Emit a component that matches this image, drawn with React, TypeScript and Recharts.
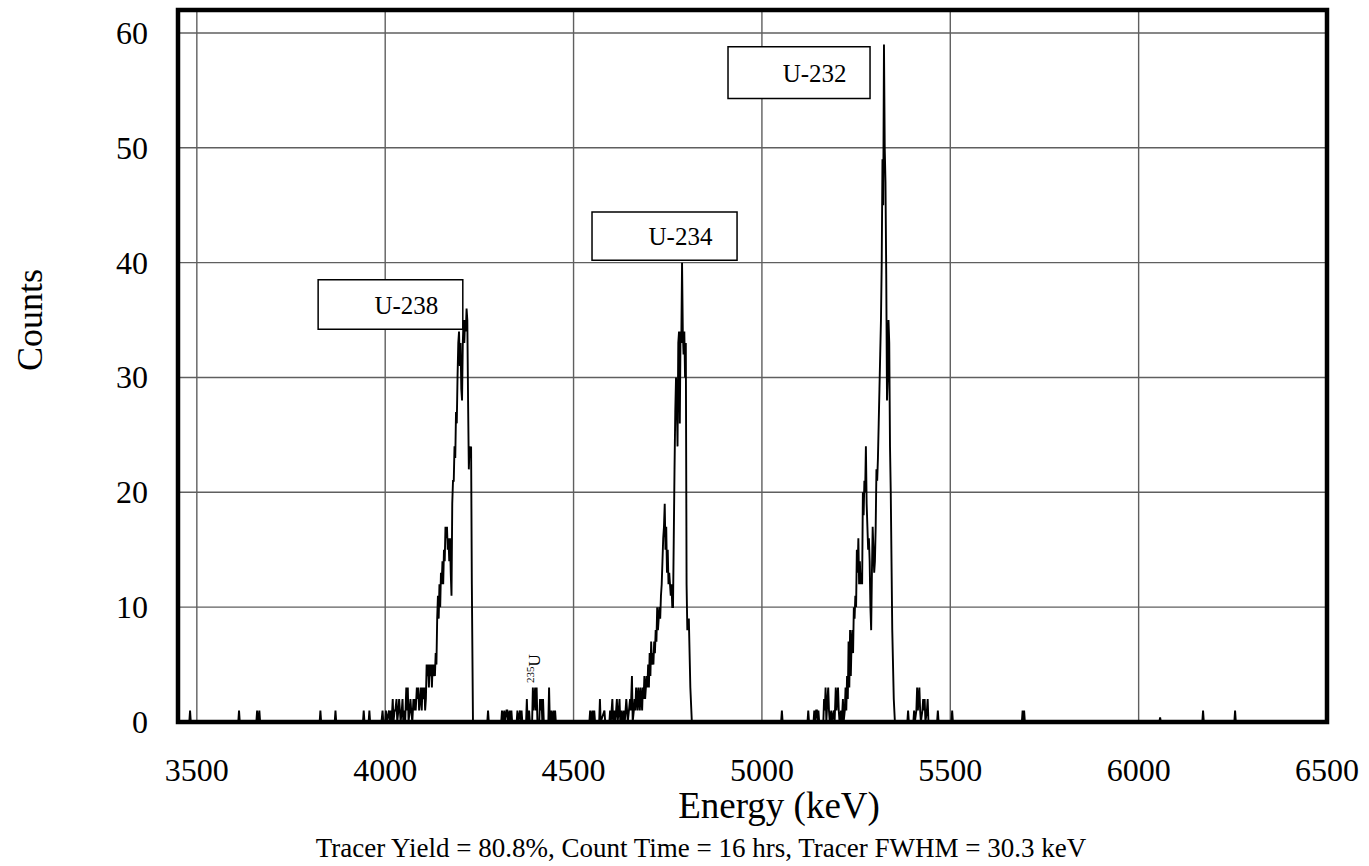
import { LineChart, Line, XAxis, YAxis, CartesianGrid, ReferenceArea, ReferenceDot } from 'recharts';

type Pt = [number, number]; // [energy keV, counts]

const energyTicks = [3500, 4000, 4500, 5000, 5500, 6000, 6500];
const countTicks = [0, 10, 20, 30, 40, 50, 60];

const lowBackground: Pt[] = [
  [3450, 0], [3480, 0], [3482, 1], [3484, 0], [3610, 0], [3612, 1], [3614, 0],
  [3658, 0], [3660, 1], [3662, 0], [3664, 0], [3666, 1], [3668, 0],
  [3826, 0], [3828, 1], [3830, 0], [3866, 0], [3868, 1], [3870, 0],
  [3941, 0], [3943, 1], [3945, 0], [3956, 0], [3958, 1], [3960, 0], [3988, 0],
];

const u238Peak: Pt[] = [
  [3990, 0], [3993, 1], [3995, 0], [4000, 0], [4002, 1], [4004, 0], [4010, 1], [4012, 0],
  [4015, 1], [4017, 0], [4020, 2], [4022, 0], [4025, 1], [4027, 1], [4030, 2], [4032, 0],
  [4035, 1], [4037, 2], [4039, 1], [4041, 0], [4044, 1], [4046, 2], [4048, 0], [4050, 1],
  [4053, 0], [4056, 3], [4058, 1], [4060, 3], [4062, 0], [4065, 1], [4067, 2], [4069, 1],
  [4072, 0], [4075, 2], [4077, 1], [4079, 2], [4081, 1], [4084, 3], [4086, 2], [4088, 3],
  [4090, 1], [4093, 2], [4095, 3], [4097, 1], [4099, 3], [4101, 2], [4104, 3], [4106, 1],
  [4108, 2], [4110, 5], [4112, 4], [4114, 5], [4116, 3], [4118, 5], [4120, 4], [4122, 5],
  [4124, 3], [4126, 5], [4128, 4], [4130, 5], [4132, 4], [4134, 6], [4136, 5], [4138, 9],
  [4140, 11], [4142, 9], [4144, 12], [4146, 10], [4148, 13], [4150, 12], [4152, 14],
  [4154, 12], [4156, 15], [4158, 14], [4160, 17], [4162, 16], [4164, 17], [4166, 15],
  [4168, 16], [4170, 14], [4172, 16], [4174, 13], [4176, 11], [4178, 19], [4180, 21],
  [4182, 21], [4184, 24], [4186, 23], [4188, 27], [4190, 26], [4192, 30], [4194, 33],
  [4196, 34], [4198, 31], [4200, 33], [4202, 29], [4204, 28], [4206, 33], [4208, 35],
  [4210, 33], [4212, 35], [4214, 34], [4216, 36], [4218, 35], [4220, 28], [4222, 22],
  [4224, 24], [4226, 23], [4228, 24], [4230, 12], [4233, 0],
];

const midBackground: Pt[] = [
  [4236, 0], [4271, 0], [4273, 1], [4275, 0], [4308, 0], [4310, 1], [4312, 0], [4316, 1],
  [4318, 0], [4322, 1], [4324, 1], [4326, 0], [4330, 1], [4332, 0], [4335, 1], [4337, 0],
  [4349, 0], [4351, 1], [4353, 0], [4358, 1], [4360, 0], [4362, 1], [4364, 0], [4374, 0],
  [4376, 2], [4378, 0], [4382, 1], [4384, 0], [4390, 0], [4392, 3], [4394, 1], [4396, 2],
  [4398, 3], [4400, 1], [4402, 3], [4404, 0], [4409, 0], [4411, 2], [4413, 1], [4415, 2],
  [4417, 0], [4419, 2], [4421, 0], [4433, 0], [4435, 3], [4437, 0], [4441, 1], [4443, 0],
  [4447, 1], [4449, 0], [4451, 1], [4453, 0], [4542, 0], [4544, 1], [4546, 0], [4550, 1],
  [4552, 0], [4555, 1], [4557, 0], [4568, 0], [4570, 2], [4572, 0], [4582, 1], [4584, 0],
  [4595, 0], [4597, 1], [4599, 0], [4603, 2], [4605, 0], [4608, 1], [4610, 0], [4613, 1],
  [4615, 2], [4617, 0], [4620, 1], [4622, 2], [4624, 0], [4628, 1], [4630, 0], [4634, 1],
  [4636, 0], [4640, 2], [4642, 1], [4644, 0], [4647, 1], [4650, 2], [4652, 1], [4655, 4],
  [4657, 0], [4660, 1], [4662, 2], [4664, 1], [4666, 3], [4668, 2], [4670, 1], [4672, 3],
  [4674, 2], [4676, 1], [4678, 3], [4680, 2], [4682, 1], [4684, 3], [4686, 2], [4688, 4],
  [4690, 2], [4692, 3], [4694, 4], [4696, 3],
];

const u234Peak: Pt[] = [
  [4698, 5], [4700, 3], [4702, 6], [4704, 4], [4706, 7], [4708, 5], [4710, 6], [4712, 5],
  [4714, 7], [4716, 6], [4718, 8], [4720, 7], [4722, 10], [4724, 8], [4726, 9], [4728, 10],
  [4730, 9], [4732, 11], [4734, 12], [4736, 14], [4738, 16], [4740, 17], [4742, 19],
  [4744, 15], [4746, 17], [4748, 13], [4750, 15], [4752, 12], [4754, 13], [4756, 12],
  [4758, 11], [4760, 12], [4762, 10], [4764, 10], [4766, 16], [4768, 22], [4770, 27],
  [4772, 30], [4774, 28], [4776, 24], [4778, 33], [4780, 34], [4782, 26], [4784, 34],
  [4786, 33], [4788, 40], [4790, 34], [4792, 32], [4794, 34], [4796, 30], [4798, 33],
  [4800, 12], [4802, 8], [4806, 9], [4810, 3], [4814, 0],
];

const preU232: Pt[] = [
  [4816, 0], [5051, 0], [5053, 1], [5055, 0], [5121, 0], [5123, 1], [5125, 0], [5137, 0],
  [5139, 1], [5141, 0], [5144, 1], [5146, 1], [5148, 0], [5150, 1], [5152, 0], [5163, 0],
  [5165, 2], [5167, 1], [5169, 3], [5171, 0], [5174, 2], [5176, 3], [5178, 1], [5180, 0],
  [5184, 1], [5186, 0], [5191, 1], [5193, 0], [5196, 3], [5198, 1], [5200, 2], [5202, 3],
  [5204, 1], [5206, 0], [5210, 1], [5212, 0], [5215, 2], [5217, 0], [5220, 1],
];

const u232Peak: Pt[] = [
  [5222, 3], [5224, 1], [5226, 4], [5228, 2], [5230, 7], [5232, 3], [5234, 8], [5236, 4],
  [5238, 7], [5240, 8], [5242, 6], [5244, 10], [5246, 9], [5248, 11], [5250, 10],
  [5252, 15], [5254, 13], [5256, 16], [5258, 12], [5260, 14], [5262, 12], [5264, 13],
  [5266, 12], [5268, 20], [5270, 18], [5272, 21], [5274, 20], [5276, 24], [5278, 19],
  [5280, 17], [5282, 15], [5284, 16], [5286, 14], [5288, 10], [5290, 8], [5292, 13],
  [5294, 17], [5296, 15], [5298, 13], [5300, 14], [5302, 17], [5304, 22], [5306, 21],
  [5308, 23], [5310, 26], [5312, 29], [5314, 32], [5316, 35], [5318, 40], [5320, 49],
  [5322, 45], [5324, 59], [5326, 50], [5328, 47], [5330, 39], [5332, 28], [5334, 30],
  [5336, 35], [5338, 33], [5340, 24], [5342, 20], [5346, 8], [5350, 2], [5353, 0],
];

const highBackground: Pt[] = [
  [5356, 0], [5386, 0], [5388, 1], [5390, 0], [5402, 0], [5404, 1], [5406, 0], [5410, 1],
  [5412, 3], [5414, 1], [5416, 2], [5418, 3], [5420, 1], [5422, 0], [5426, 1], [5428, 2],
  [5430, 1], [5432, 2], [5434, 0], [5438, 1], [5440, 2], [5442, 0], [5465, 0], [5467, 1],
  [5469, 0], [5503, 0], [5505, 1], [5507, 0], [5690, 0], [5692, 1], [5694, 0], [5696, 1],
  [5698, 0], [6055, 0], [6057, 0.4], [6059, 0], [6169, 0], [6171, 1], [6173, 0],
  [6254, 0], [6256, 1], [6258, 0], [6500, 0],
];

// annotation boxes, in data units
const peakBoxes = [
  { name: 'U-238', x1: 3822, x2: 4206, y1: 34.2, y2: 38.5 },
  { name: 'U-234', x1: 4549, x2: 4934, y1: 40.2, y2: 44.4 },
  { name: 'U-232', x1: 4910, x2: 5287, y1: 54.3, y2: 58.8 },
];

const spectrum = [...lowBackground, ...u238Peak, ...midBackground, ...u234Peak, ...preU232, ...u232Peak, ...highBackground]
  .sort((a, b) => a[0] - b[0])
  .map(([keV, counts]) => ({ keV, counts }));

const SERIF = '"Liberation Serif", "Times New Roman", serif';

function XTick(props: any) {
  const { x, y, payload } = props;
  return (
    <text x={x} y={y + 59} textAnchor="middle" fontSize={32} fontFamily={SERIF} fill="#000">
      {payload.value}
    </text>
  );
}

function YTick(props: any) {
  const { x, y, payload } = props;
  return (
    <text x={x - 30} y={y + 11} textAnchor="end" fontSize={32} fontFamily={SERIF} fill="#000">
      {payload.value}
    </text>
  );
}

function XLabel({ viewBox }: any) {
  return (
    <g fontFamily={SERIF} fill="#000">
      <text x={viewBox.x + 601} y={viewBox.y + 96} textAnchor="middle" fontSize={37}>Energy (keV)</text>
      <text x={viewBox.x + 523} y={viewBox.y + 135} textAnchor="middle" fontSize={27}>
        Tracer Yield = 80.8%, Count Time = 16 hrs, Tracer FWHM = 30.3 keV
      </text>
    </g>
  );
}

function YLabel({ viewBox }: any) {
  return (
    <text
      transform={`translate(${viewBox.x + 22},${viewBox.y + 310}) rotate(-90)`}
      textAnchor="middle"
      dominantBaseline="central"
      fontSize={36}
      fontFamily={SERIF}
      fill="#000"
    >
      Counts
    </text>
  );
}

function BoxLabel({ viewBox, text }: any) {
  return (
    <text
      x={viewBox.x + viewBox.width * 0.61}
      y={viewBox.y + viewBox.height / 2 + 9}
      textAnchor="middle"
      fontSize={25}
      fontFamily={SERIF}
      fill="#000"
    >
      {text}
    </text>
  );
}

function IsotopeTag({ viewBox }: any) {
  return (
    <text transform={`translate(${viewBox.x},${viewBox.y}) rotate(-90)`} fontFamily={SERIF} fill="#000">
      <tspan fontSize={11} dy={-6}>235</tspan>
      <tspan fontSize={17} dy={6}>U</tspan>
    </text>
  );
}

export default function App() {
  return (
    <div style={{ position: 'absolute', left: 0, top: 0, width: 1369, height: 866, background: '#fff' }}>
      <LineChart width={1369} height={866} data={spectrum} margin={{ top: 10, right: 42, bottom: 24, left: 8 }}>
        <CartesianGrid stroke="#5f5f5f" strokeWidth={1.4} />
        <XAxis
          dataKey="keV"
          type="number"
          domain={[3450, 6500]}
          ticks={energyTicks}
          interval={0}
          axisLine={false}
          tickLine={false}
          tickSize={0}
          tickMargin={0}
          height={120}
          tick={<XTick />}
          label={<XLabel />}
        />
        <YAxis
          type="number"
          domain={[0, 62]}
          ticks={countTicks}
          interval={0}
          axisLine={false}
          tickLine={false}
          tickSize={0}
          tickMargin={0}
          width={170}
          tick={<YTick />}
          label={<YLabel />}
        />
        <Line
          dataKey="counts"
          type="linear"
          stroke="#000"
          strokeWidth={1.9}
          dot={false}
          isAnimationActive={false}
        />
        {peakBoxes.map((b) => (
          <ReferenceArea
            key={b.name}
            x1={b.x1}
            x2={b.x2}
            y1={b.y1}
            y2={b.y2}
            fill="#fff"
            fillOpacity={1}
            stroke="#000"
            strokeWidth={1.5}
            label={<BoxLabel text={b.name} />}
          />
        ))}
        <ReferenceDot x={4410} y={3.4} r={0} fill="none" stroke="none" label={<IsotopeTag />} />
        <ReferenceArea x1={3450} x2={6500} y1={0} y2={62} fill="none" stroke="#000" strokeWidth={4.5} />
      </LineChart>
    </div>
  );
}
